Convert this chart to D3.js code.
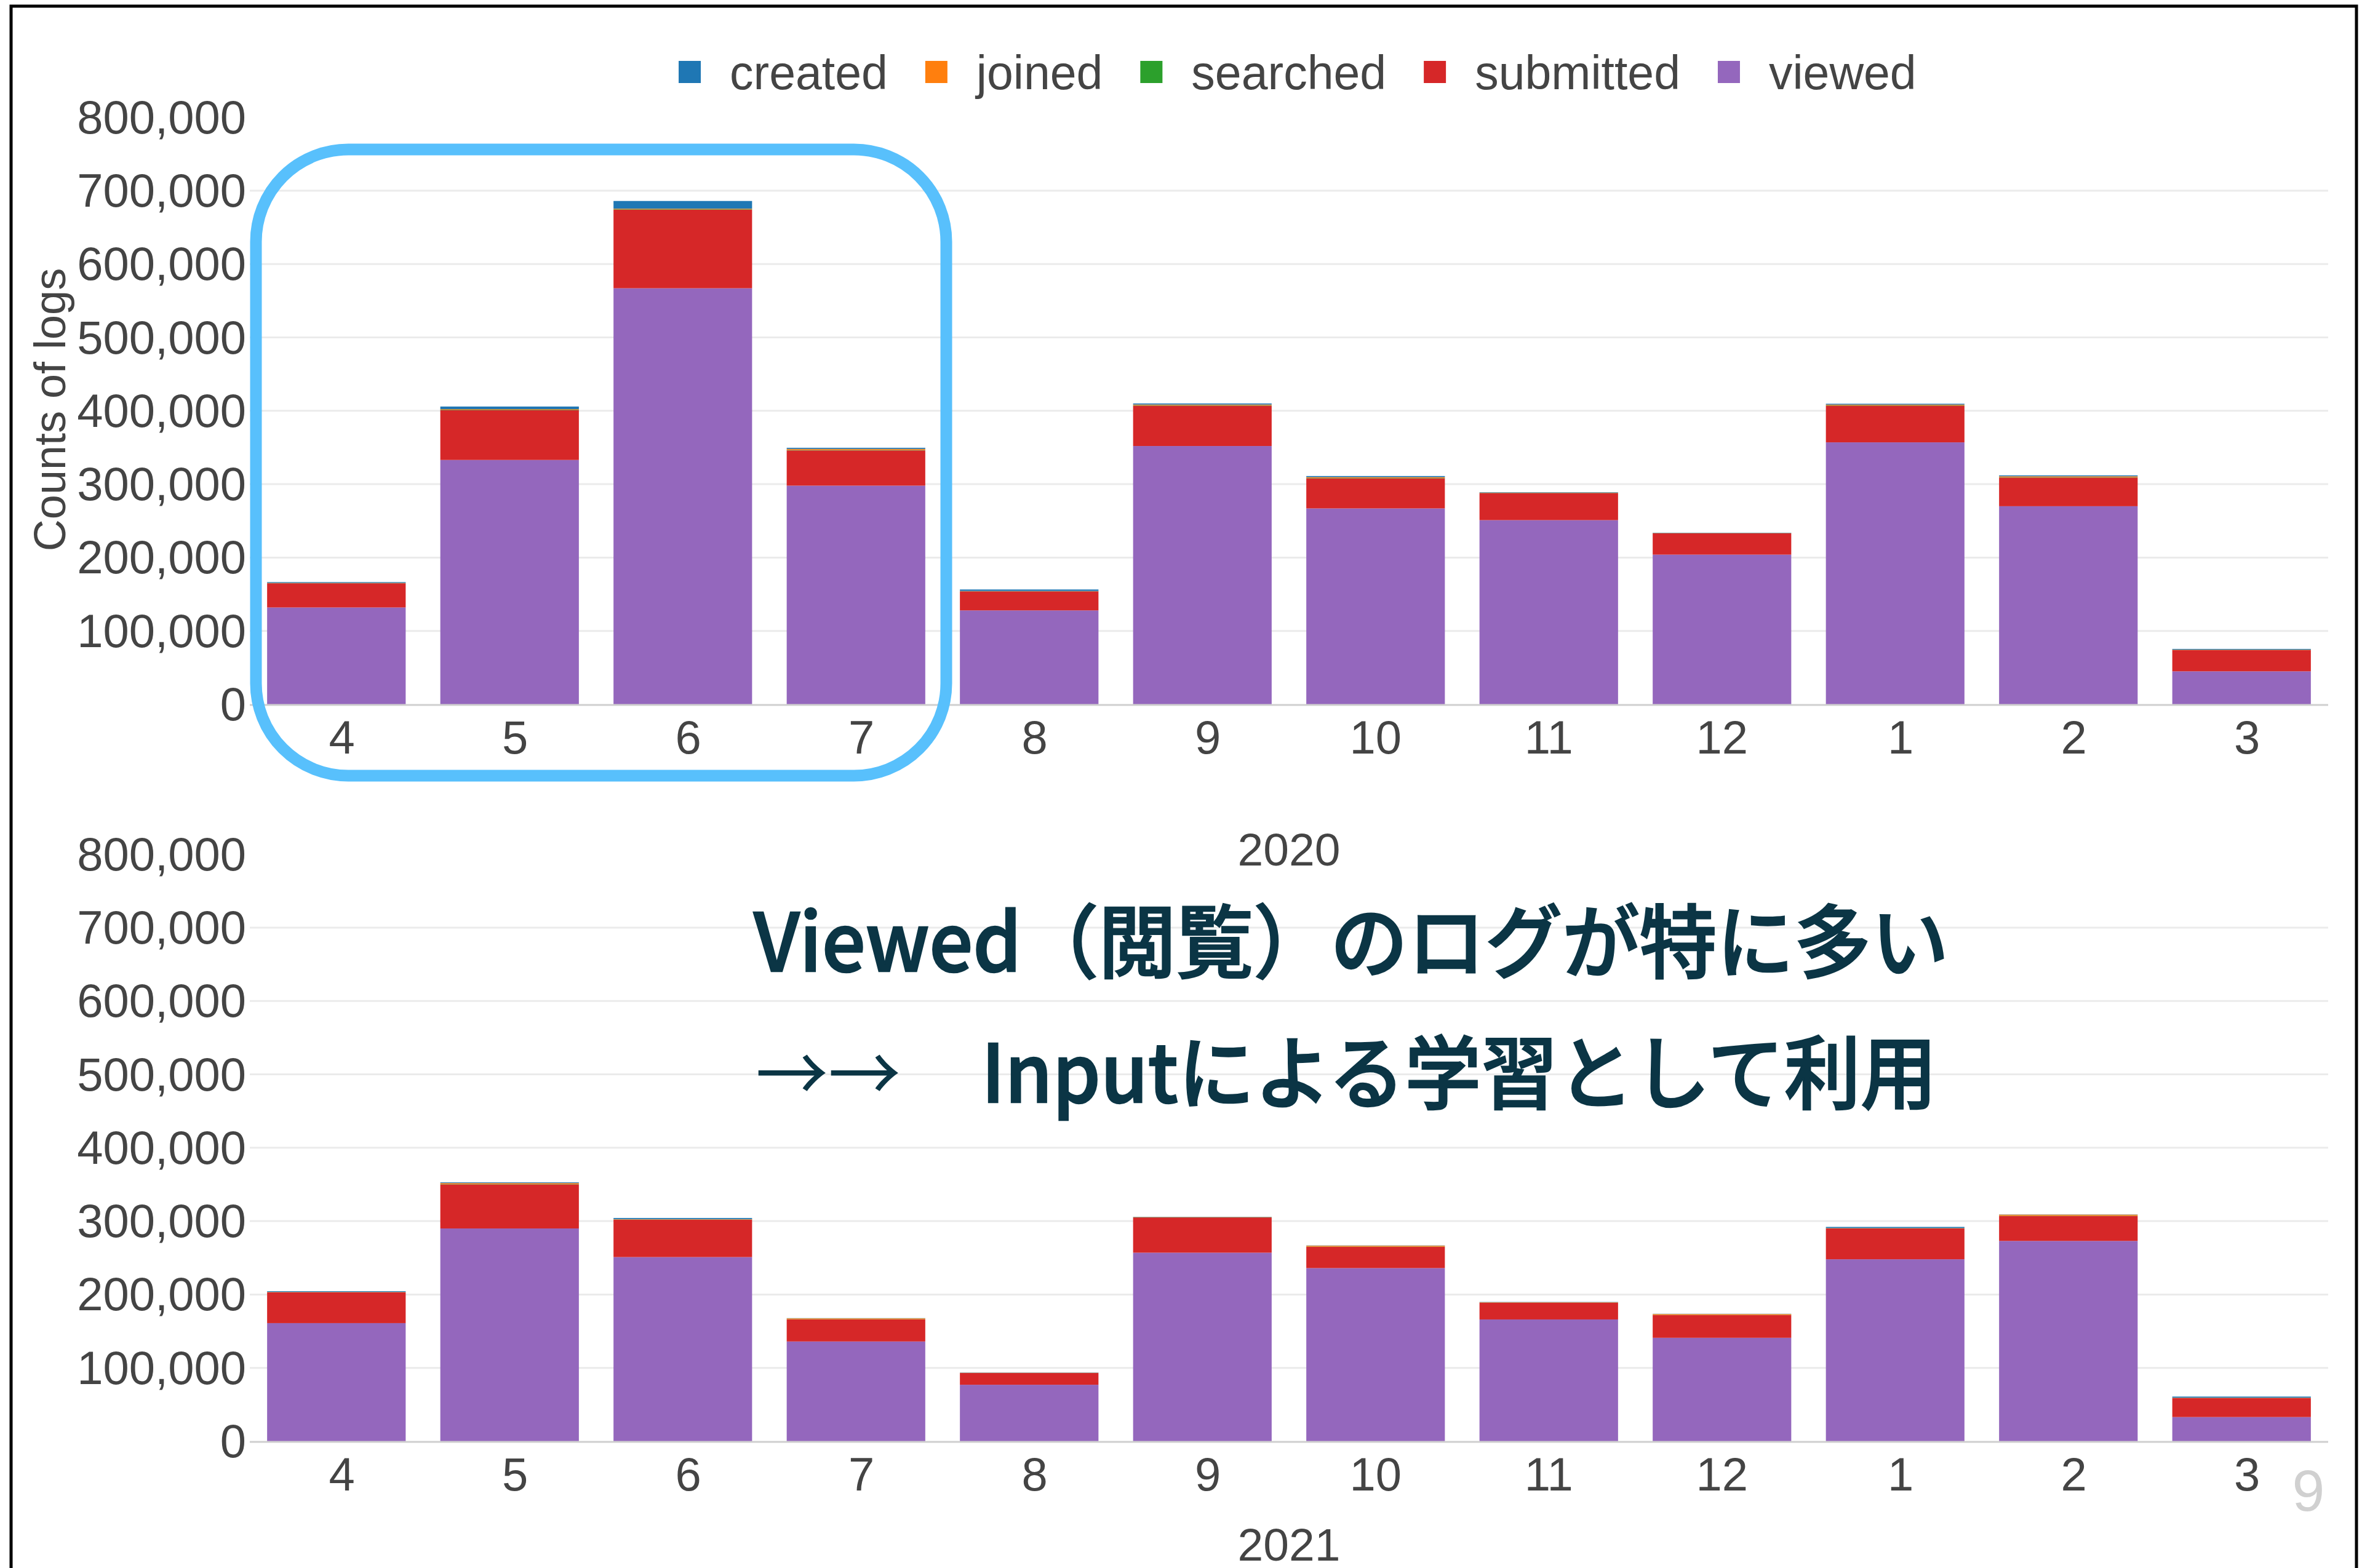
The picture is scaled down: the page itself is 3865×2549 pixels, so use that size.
<!DOCTYPE html>
<html>
<head>
<meta charset="utf-8">
<script src="https://cdn.jsdelivr.net/npm/d3@7"></script>
<style>
  html, body { margin: 0; padding: 0; background: #fff; }
  svg { display: block; }
</style>
</head>
<body>
<svg id="chart" width="3865" height="2549"></svg>
<script>
// months on the x axis (fiscal year, April to March)
var months = ["4", "5", "6", "7", "8", "9", "10", "11", "12", "1", "2", "3"];
var seriesNames = ["created", "joined", "searched", "submitted", "viewed"];
var seriesColors = ["#1f77b4", "#ff7f0e", "#2ca02c", "#d62728", "#9467bd"];
var yTicks = [0, 100000, 200000, 300000, 400000, 500000, 600000, 700000, 800000];

// 2020
var viewed2020 = [132000, 333000, 567000, 298000, 128000, 352000, 267000, 251000, 204000, 357000, 270000, 45000];
var submitted2020 = [33000, 68000, 107000, 48000, 26000, 55000, 41000, 37000, 29000, 50000, 39000, 29000];
var searched2020 = [300, 500, 600, 600, 200, 500, 400, 300, 200, 400, 400, 200];
var joined2020 = [300, 800, 800, 1500, 300, 1000, 1200, 300, 300, 1000, 1300, 300];
var created2020 = [1000, 3500, 10500, 1500, 2000, 1500, 1500, 500, 400, 1200, 1300, 1000];

// 2021
var viewed2021 = [161000, 290000, 251000, 136000, 77000, 257000, 236000, 166000, 141000, 248000, 273000, 33000];
var submitted2021 = [42000, 60000, 51000, 30000, 16000, 48000, 29000, 23000, 31000, 42000, 34000, 26000];
var searched2021 = [200, 300, 300, 300, 100, 300, 300, 200, 200, 300, 300, 100];
var joined2021 = [300, 1500, 500, 1200, 300, 300, 1200, 300, 1200, 300, 1500, 300];
var created2021 = [1000, 1000, 1500, 300, 300, 300, 300, 300, 300, 1500, 300, 1500];

var svg = d3.select("#chart");
var font = "'Liberation Sans', Arial, Helvetica, sans-serif";
var jpFont = "'Noto Sans CJK JP', 'Noto Sans', sans-serif";
var textColor = "#444";

var plotLeft = 406, plotRight = 3784;

var x = d3.scaleBand()
    .domain(months)
    .range([plotLeft, plotRight])
    .paddingInner(0.2)
    .paddingOuter(0.1);

var color = d3.scaleOrdinal().domain(seriesNames).range(seriesColors);

// stacking order from the bottom: viewed, submitted, searched, joined, created
var stackKeys = ["viewed", "submitted", "searched", "joined", "created"];

function buildRows(viewed, submitted, searched, joined, created) {
    return months.map(function (m, i) {
        return {
            month: m,
            viewed: viewed[i],
            submitted: submitted[i],
            searched: searched[i],
            joined: joined[i],
            created: created[i]
        };
    });
}

/**
 * draws one stacked bar panel
 */
function drawPanel(rows, base, title, titleY) {
    var y = d3.scaleLinear()
        .domain([0, 800000])
        .range([base, base - 954.4]);

    var g = svg.append("g");

    // gridlines (the top one is not drawn)
    g.append("g")
        .selectAll("line")
        .data(yTicks.filter(function (t) { return t > 0 && t < 800000; }))
        .join("line")
        .attr("x1", plotLeft)
        .attr("x2", plotRight)
        .attr("y1", function (d) { return y(d); })
        .attr("y2", function (d) { return y(d); })
        .attr("stroke", "#ebebeb")
        .attr("stroke-width", 3);

    var stacked = d3.stack().keys(stackKeys)(rows);

    g.append("g")
        .selectAll("g")
        .data(stacked)
        .join("g")
        .attr("fill", function (d) { return color(d.key); })
        .selectAll("rect")
        .data(function (d) { return d; })
        .join("rect")
        .attr("x", function (d) { return x(d.data.month); })
        .attr("width", x.bandwidth())
        .attr("y", function (d) { return y(d[1]); })
        .attr("height", function (d) { return y(d[0]) - y(d[1]); });

    // baseline
    g.append("line")
        .attr("x1", plotLeft)
        .attr("x2", plotRight)
        .attr("y1", base + 1)
        .attr("y2", base + 1)
        .attr("stroke", "#cfcfcf")
        .attr("stroke-width", 3);

    // y labels
    var fmt = d3.format(",");
    g.append("g")
        .selectAll("text")
        .data(yTicks)
        .join("text")
        .attr("x", 400)
        .attr("y", function (d) { return y(d) + 26; })
        .attr("text-anchor", "end")
        .attr("font-family", font)
        .attr("font-size", 76)
        .attr("fill", textColor)
        .text(function (d) { return fmt(d); });

    // x labels (single digits sit a little right of the bar centre in the original)
    g.append("g")
        .selectAll("text")
        .data(months)
        .join("text")
        .attr("x", function (d) { return x(d) + x.bandwidth() / 2 + (d.length == 1 ? 9 : 0); })
        .attr("y", base + 80)
        .attr("text-anchor", "middle")
        .attr("font-family", font)
        .attr("font-size", 76)
        .attr("fill", textColor)
        .text(function (d) { return d; });

    g.append("text")
        .attr("x", (plotLeft + plotRight) / 2)
        .attr("y", titleY)
        .attr("text-anchor", "middle")
        .attr("font-family", font)
        .attr("font-size", 75)
        .attr("fill", textColor)
        .text(title);
}

drawPanel(buildRows(viewed2020, submitted2020, searched2020, joined2020, created2020), 1145, "2020", 1407);
drawPanel(buildRows(viewed2021, submitted2021, searched2021, joined2021, created2021), 2343, "2021", 2537);

// y axis title (top panel only)
svg.append("text")
    .attr("transform", "translate(106,666) rotate(-90)")
    .attr("text-anchor", "middle")
    .attr("font-family", font)
    .attr("font-size", 72)
    .attr("fill", textColor)
    .text("Counts of logs");

// legend
var legend = svg.append("g");
var lx = 1103;
seriesNames.forEach(function (name) {
    legend.append("rect")
        .attr("x", lx)
        .attr("y", 99)
        .attr("width", 36)
        .attr("height", 36)
        .attr("fill", color(name));
    var t = legend.append("text")
        .attr("x", lx + 83)
        .attr("y", 145)
        .attr("font-family", font)
        .attr("font-size", 77)
        .attr("fill", textColor)
        .text(name);
    lx = lx + 83 + t.node().getComputedTextLength() + 61;
});

// highlight box around April-July 2020
svg.append("rect")
    .attr("x", 416)
    .attr("y", 243)
    .attr("width", 1122)
    .attr("height", 1018)
    .attr("rx", 150)
    .attr("ry", 150)
    .attr("fill", "none")
    .attr("stroke", "#58c0fc")
    .attr("stroke-width", 19);

// annotation
var noteColor = "#0b3545";
svg.append("text")
    .attr("x", 1225)
    .attr("y", 1579)
    .attr("font-family", jpFont)
    .attr("font-weight", 500)
    .attr("font-size", 130)
    .attr("fill", noteColor)
    .attr("stroke", noteColor)
    .attr("stroke-width", 2.5)
    .attr("textLength", 1942)
    .attr("lengthAdjust", "spacingAndGlyphs")
    .text("Viewed（閲覧）のログが特に多い");

svg.append("text")
    .attr("x", 1228)
    .attr("y", 1792)
    .attr("font-family", jpFont)
    .attr("font-weight", 400)
    .attr("font-size", 126)
    .attr("fill", noteColor)
    .attr("textLength", 236)
    .attr("lengthAdjust", "spacingAndGlyphs")
    .text("→→");

svg.append("text")
    .attr("x", 1595)
    .attr("y", 1792)
    .attr("font-family", jpFont)
    .attr("font-weight", 500)
    .attr("font-size", 130)
    .attr("fill", noteColor)
    .attr("stroke", noteColor)
    .attr("stroke-width", 2.5)
    .attr("textLength", 1553)
    .attr("lengthAdjust", "spacingAndGlyphs")
    .text("Inputによる学習として利用");

// page number
svg.append("text")
    .attr("x", 3752)
    .attr("y", 2456)
    .attr("text-anchor", "middle")
    .attr("font-family", font)
    .attr("font-size", 95)
    .attr("fill", "#d0d0d0")
    .text("9");

// slide frame
svg.append("rect")
    .attr("x", 18)
    .attr("y", 10)
    .attr("width", 3812)
    .attr("height", 2600)
    .attr("fill", "none")
    .attr("stroke", "#000")
    .attr("stroke-width", 5);
</script>
</body>
</html>
